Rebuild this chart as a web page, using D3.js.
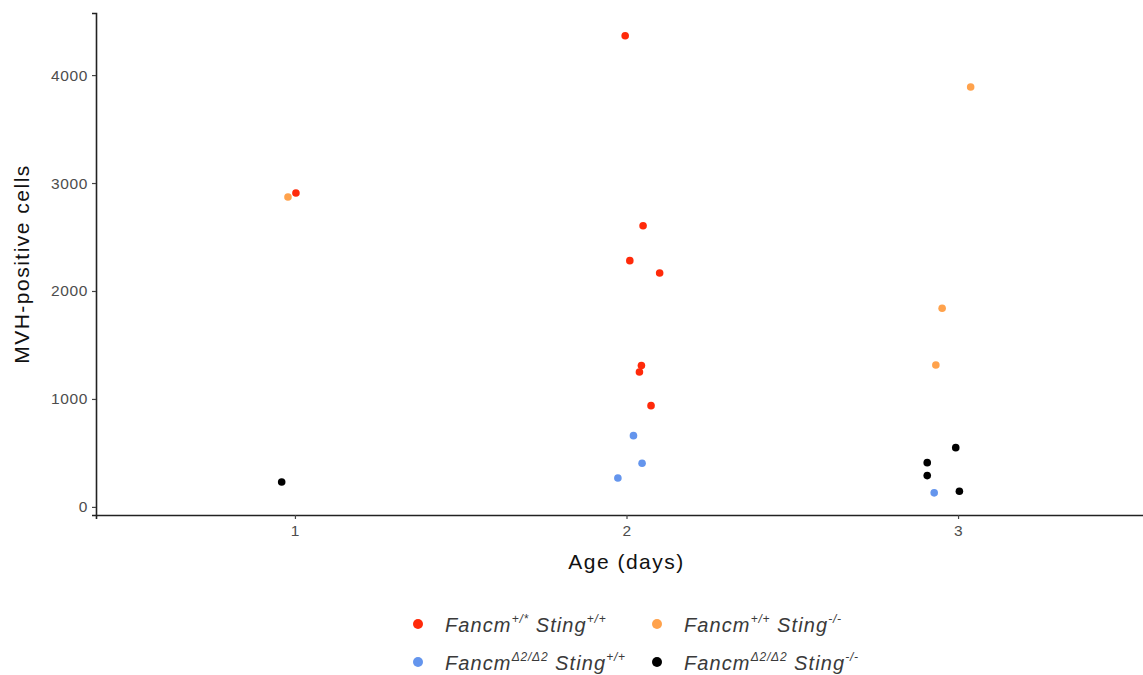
<!DOCTYPE html>
<html>
<head>
<meta charset="utf-8">
<script src="https://cdn.jsdelivr.net/npm/d3@7"></script>
<style>
  body { margin: 0; background: #fff; }
  text { font-family: "Liberation Sans", Arial, sans-serif; }
</style>
</head>
<body>
<div id="chart"></div>
<script>
// jittered age (x) and MVH-positive cell counts (y), per genotype
const wt_age   = [1.003, 1.996, 2.05, 2.01, 2.10, 2.045, 2.039, 2.074];
const wt_cells = [2907, 4364, 2605, 2281, 2167, 1309, 1250, 938];

const stingko_age   = [0.979, 3.038, 2.952, 2.933];
const stingko_cells = [2870, 3889, 1840, 1315];

const fancm_age   = [2.021, 2.047, 1.974, 2.928];
const fancm_cells = [660, 404, 268, 130];

const dko_age   = [0.96, 2.993, 2.907, 2.907, 3.004];
const dko_cells = [231, 549, 410, 290, 145];

const age_ticks = [1, 2, 3];
const cell_ticks = [0, 1000, 2000, 3000, 4000];

const groups = [
  {name: 'wt', age: wt_age, cells: wt_cells, color: '#ff2a0a', a: '+/*', b: '+/+'},
  {name: 'stingko', age: stingko_age, cells: stingko_cells, color: '#ffa24c', a: '+/+', b: '-/-'},
  {name: 'fancm', age: fancm_age, cells: fancm_cells, color: '#6495ed', a: '\u03942/\u03942', b: '+/+'},
  {name: 'dko', age: dko_age, cells: dko_cells, color: '#000000', a: '\u03942/\u03942', b: '-/-'}
];

const width = 1143, height = 675;
const margin = {top: 13, left: 96, bottom: 160};
const panel_right = 1157;

const svg = d3.select('#chart')
  .append('svg')
    .attr('width', width)
    .attr('height', height);

const x = d3.scaleLinear()
  .domain([0.4, 3.6])
  .range([margin.left, panel_right]);

const y = d3.scaleLinear()
  .domain([-75, 4575])
  .range([height - margin.bottom, margin.top]);

const plot_bottom = height - margin.bottom;

// x axis
const xdom = svg.append('g')
  .attr('transform', 'translate(0,' + plot_bottom + ')')
  .call(d3.axisBottom(x).tickValues(age_ticks).tickFormat(d3.format('d')).tickSizeOuter(0).tickSize(4).tickPadding(6));

// y axis
const ydom = svg.append('g')
  .attr('transform', 'translate(' + margin.left + ',0)')
  .call(d3.axisLeft(y).tickValues(cell_ticks).tickFormat(d3.format('d')).tickSizeOuter(0).tickSize(4).tickPadding(4));

[xdom, ydom].forEach(function(g) {
  g.select('.domain').attr('stroke', '#222').attr('stroke-width', 1.6);
  g.selectAll('.tick line').attr('stroke', '#444').attr('stroke-width', 1.2);
  g.selectAll('.tick text')
    .attr('fill', '#4d4d4d')
    .style('font-size', '15.5px')
    .style('letter-spacing', '0.6px');
});

svg.append('text')
  .attr('x', x(2))
  .attr('y', 569)
  .style('text-anchor', 'middle')
  .style('font-size', '21px')
  .style('letter-spacing', '1.5px')
  .attr('fill', '#111')
  .text('Age (days)');

svg.append('text')
  .attr('transform', 'rotate(-90)')
  .attr('x', -(margin.top + plot_bottom) / 2)
  .attr('y', 29)
  .style('text-anchor', 'middle')
  .style('font-size', '21px')
  .style('letter-spacing', '1.5px')
  .attr('fill', '#111')
  .text('MVH-positive cells');

// points
groups.forEach(function(grp) {
  svg.append('g')
    .selectAll('circle')
    .data(d3.range(grp.age.length))
    .join('circle')
      .attr('cx', i => x(grp.age[i]))
      .attr('cy', i => y(grp.cells[i]))
      .attr('r', 3.8)
      .attr('fill', grp.color);
});

// legend
const legend_cols = [418, 657];
const legend_rows = [624, 662];

groups.forEach(function(grp, i) {
  const lx = legend_cols[i % 2];
  const ly = legend_rows[Math.floor(i / 2)];
  svg.append('circle')
    .attr('cx', lx)
    .attr('cy', ly)
    .attr('r', 5)
    .attr('fill', grp.color);

  const t = svg.append('text')
    .attr('x', lx + 27)
    .attr('y', ly + 8)
    .style('font-size', '20px')
    .style('font-style', 'italic')
    .style('letter-spacing', '1.1px')
    .attr('fill', '#3a3a3a');
  t.append('tspan').text('Fancm');
  t.append('tspan').attr('dy', -9).style('font-size', '12px').style('letter-spacing', '0.8px').text(grp.a);
  t.append('tspan').attr('dy', 9).text('\u00a0Sting');
  t.append('tspan').attr('dy', -9).style('font-size', '12px').style('letter-spacing', '0.8px').text(grp.b);
});
</script>
</body>
</html>
